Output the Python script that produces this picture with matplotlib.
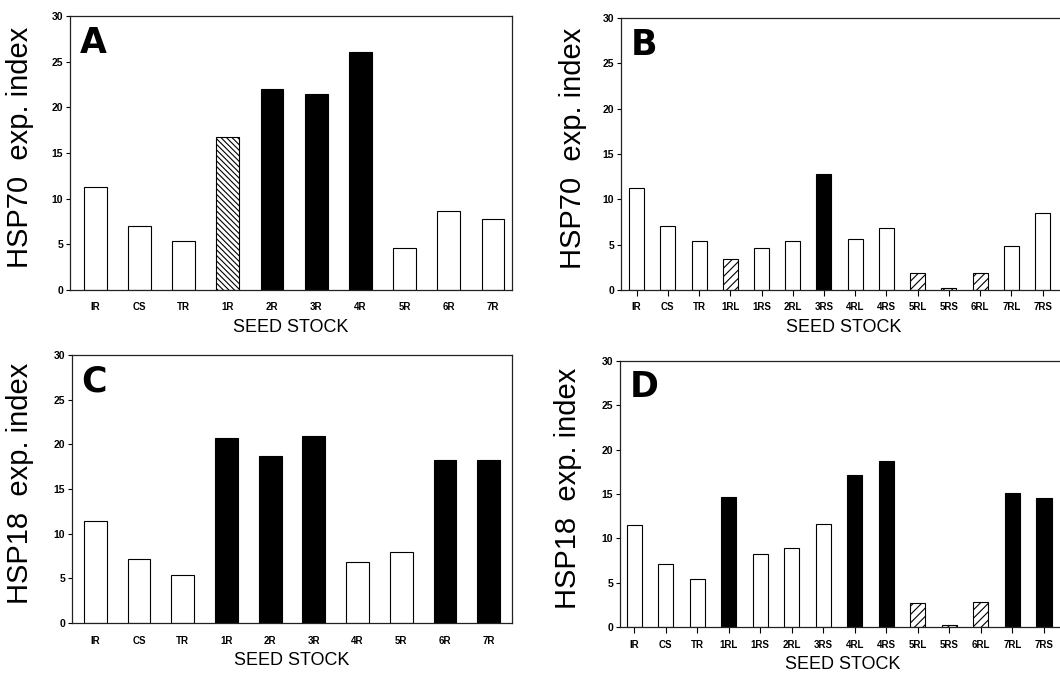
import numpy as np
import matplotlib
matplotlib.use('Agg')
import matplotlib.pyplot as plt

plt.rcParams.update({
    'font.family': ['Liberation Sans', 'DejaVu Sans'],
    'hatch.linewidth': 0.8,
    'axes.linewidth': 0.9,
})

# ── Data ──────────────────────────────────────────────────────────────────
LINES_AC = ['IR', 'CS', 'TR', '1R', '2R', '3R', '4R', '5R', '6R', '7R']
LINES_BD = ['IR', 'CS', 'TR', '1RL', '1RS', '2RL', '3RS', '4RL', '4RS',
            '5RL', '5RS', '6RL', '7RL', '7RS']

hsp70_a = [11.3, 7.0, 5.35, 16.7, 22.0, 21.5, 26.05, 4.65, 8.6, 7.8]
group_a = ['o', 'o', 'o', 'd', 'b', 'b', 'b', 'o', 'o', 'o']

hsp70_b = [11.3, 7.05, 5.35, 3.4, 4.6, 5.35, 12.8, 5.6, 6.85,
           1.9, 0.2, 1.9, 4.8, 8.5]
group_b = ['o', 'o', 'o', 'h', 'o', 'o', 'b', 'o', 'o',
           'h', 'h', 'h', 'o', 'o']

hsp18_c = [11.45, 7.15, 5.4, 20.7, 18.7, 20.9, 6.85, 8.0, 18.3, 18.2]
group_c = ['o', 'o', 'o', 'b', 'b', 'b', 'o', 'o', 'b', 'b']

hsp18_d = [11.5, 7.15, 5.4, 14.7, 8.2, 8.9, 11.65, 17.15, 18.75,
           2.7, 0.25, 2.8, 15.1, 14.5]
group_d = ['o', 'o', 'o', 'b', 'o', 'o', 'o', 'b', 'b',
           'h', 'h', 'h', 'b', 'b']

STYLE = {
    'o': dict(color='white', hatch=None),
    'b': dict(color='black', hatch=None),
    'h': dict(color='white', hatch='////'),
    'd': dict(color='white', hatch='\\\\\\\\\\\\'),
}

W, H = 1060, 674
fig = plt.figure(figsize=(W / 100, H / 100), dpi=100)


def px_axes(left, top, right, bottom):
    return fig.add_axes([left / W, 1 - bottom / H, (right - left) / W, (bottom - top) / H])


def panel(ax, cats, vals, groups, letter, ylabel, xlim, width, xticks,
          open_right, label_gap):
    x = np.arange(len(cats))
    for xi, v, g in zip(x, vals, groups):
        st = STYLE[g]
        ax.bar(xi, v, width, color=st['color'], hatch=st['hatch'],
               edgecolor='black', linewidth=0.8, zorder=2)
    ax.set_xlim(*xlim)
    ax.set_ylim(0, 30)
    ax.set_yticks([0, 5, 10, 15, 20, 25, 30])
    ax.set_xticks(x)
    ax.set_xticklabels(cats, fontsize=7, fontweight='bold')
    for lab in ax.get_yticklabels():
        lab.set_fontsize(7.5)
        lab.set_fontweight('bold')
    ax.tick_params(axis='y', direction='out', length=3, width=0.8, pad=2)
    if xticks:
        ax.tick_params(axis='x', direction='out', length=4, width=0.8, pad=5)
    else:
        ax.tick_params(axis='x', length=0, pad=9)
    for s in ax.spines.values():
        s.set_color('#222222')
    if open_right:
        ax.spines['right'].set_visible(False)
    ax.set_xlabel('SEED STOCK', fontsize=13, labelpad=5)
    ax.set_ylabel(ylabel, fontsize=21)
    ax_w = ax.get_position().width * W
    ax.yaxis.set_label_coords(-label_gap / ax_w, 0.52)
    ax.text(0.022, 0.965, letter, transform=ax.transAxes, ha='left', va='top',
            fontsize=25, fontweight='bold', family='DejaVu Sans')


ax_a = px_axes(70, 16, 512, 290)
panel(ax_a, LINES_AC, hsp70_a, group_a, 'A', 'HSP70  exp. index',
      (-0.57, 9.43), 0.52, False, False, 36)

ax_b = px_axes(621, 18, 1066, 290)
panel(ax_b, LINES_BD, hsp70_b, group_b, 'B', 'HSP70  exp. index',
      (-0.5, 13.75), 0.48, True, True, 34)

ax_c = px_axes(72, 355, 512, 623)
panel(ax_c, LINES_AC, hsp18_c, group_c, 'C', 'HSP18  exp. index',
      (-0.53, 9.53), 0.52, False, False, 38)

ax_d = px_axes(620, 361, 1066, 627)
panel(ax_d, LINES_BD, hsp18_d, group_d, 'D', 'HSP18  exp. index',
      (-0.45, 13.7), 0.48, True, True, 38)

fig.savefig('out.png', dpi=100)
